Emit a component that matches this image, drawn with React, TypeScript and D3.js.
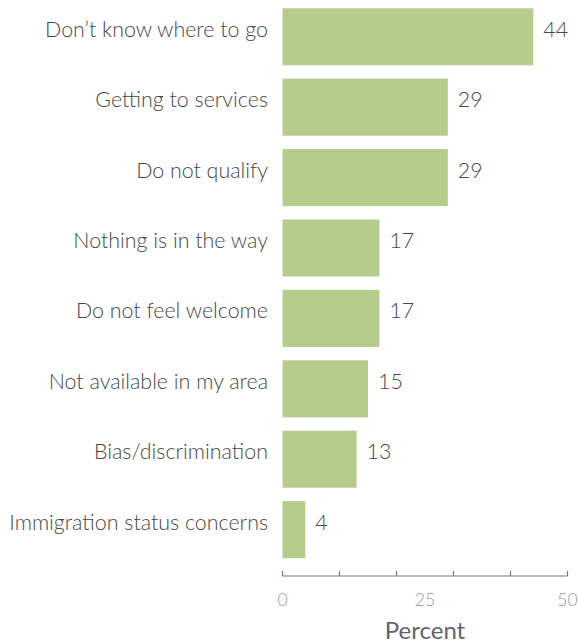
import React from "react";
import * as d3 from "d3";

const categories = [
  "Don’t know where to go",
  "Getting to services",
  "Do not qualify",
  "Nothing is in the way",
  "Do not feel welcome",
  "Not available in my area",
  "Bias/discrimination",
  "Immigration status concerns",
];
const values = [44, 29, 29, 17, 17, 15, 13, 4];
const tickValues = [0, 10, 20, 30, 40, 50];
const tickLabelValues = [0, 25, 50];
const axisTitle = "Percent";

const W = 579;
const H = 644;
const FONT = "Lato, 'Open Sans', sans-serif";

export default function App() {
  const x = d3.scaleLinear().domain([0, 50]).range([282.5, 567.5]);
  const y = d3
    .scaleBand<string>()
    .domain(categories)
    .range([1.2, 565.2])
    .paddingInner(0.19)
    .paddingOuter(0.1);
  const axisY = 576;
  return (
    <svg
      width={W}
      height={H}
      style={{ position: "absolute", left: 0, top: 0 }}
      fontFamily={FONT}
    >
      {categories.map((c, i) => {
        const y0 = y(c)!;
        const bw = y.bandwidth();
        return (
          <g key={c}>
            <rect
              x={x(0)}
              y={y0}
              width={x(values[i]) - x(0)}
              height={bw}
              fill="#b6cc8d"
            />
            <text
              x={268}
              y={y0 + bw / 2}
              textAnchor="end"
              fontSize={21.4}
              fontWeight={300}
              fill="#474747"
            >
              {c}
            </text>
            <text
              x={x(values[i]) + 10}
              y={y0 + bw / 2}
              fontSize={21.4}
              fontWeight={300}
              fill="#474747"
            >
              {values[i]}
            </text>
          </g>
        );
      })}
      <line
        x1={x(0)}
        x2={x(50)}
        y1={axisY}
        y2={axisY}
        stroke="#6f7a85"
        strokeWidth={1.2}
      />
      {tickValues.map((t) => (
        <line
          key={t}
          x1={x(t)}
          x2={x(t)}
          y1={axisY - 5}
          y2={axisY}
          stroke="#6f7a85"
          strokeWidth={1.2}
        />
      ))}
      {tickLabelValues.map((t) => (
        <text
          key={t}
          x={x(t)}
          y={606}
          textAnchor="middle"
          fontSize={17.5}
          fontWeight={300}
          fill="#999999"
        >
          {String(t)}
        </text>
      ))}
      <text
        x={x(25)}
        y={639}
        textAnchor="middle"
        fontSize={24}
        fill="#5b6670"
      >
        {axisTitle}
      </text>
    </svg>
  );
}
